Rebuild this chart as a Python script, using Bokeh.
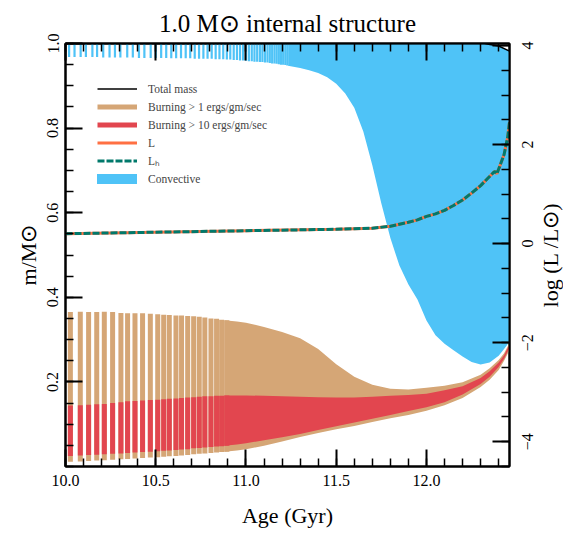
from bokeh.plotting import figure
from bokeh.layouts import row
from bokeh.models import Range1d, LinearAxis, FixedTicker, Legend, LegendItem
from bokeh.embed import file_html
from bokeh.resources import INLINE

# ---------------- data ----------------
# striped phase: one vertical bar per model
stripe_age = [10.027, 10.082, 10.128, 10.173, 10.215, 10.261, 10.307, 10.344, 10.385, 10.427,
              10.470, 10.511, 10.544, 10.575, 10.612, 10.643, 10.677, 10.710, 10.741, 10.772,
              10.806, 10.837, 10.865, 10.894]
b1_top_s = [0.365, 0.366, 0.365, 0.365, 0.366, 0.365, 0.363, 0.362, 0.362, 0.362,
            0.361, 0.360, 0.359, 0.358, 0.357, 0.357, 0.356, 0.355, 0.354, 0.352,
            0.350, 0.349, 0.347, 0.346]
b1_bot_s = [0.011, 0.012, 0.013, 0.014, 0.015, 0.016, 0.017, 0.018, 0.019, 0.020,
            0.021, 0.022, 0.023, 0.024, 0.025, 0.026, 0.027, 0.029, 0.030, 0.031,
            0.032, 0.033, 0.034, 0.035]
b10_top_s = [0.144, 0.145, 0.146, 0.147, 0.148, 0.150, 0.152, 0.154, 0.155, 0.156,
             0.157, 0.158, 0.159, 0.160, 0.161, 0.162, 0.163, 0.164, 0.165, 0.166,
             0.166, 0.167, 0.167, 0.168]
b10_bot_s = [0.025, 0.026, 0.027, 0.028, 0.029, 0.030, 0.031, 0.032, 0.033, 0.034,
             0.035, 0.036, 0.037, 0.038, 0.039, 0.040, 0.041, 0.043, 0.044, 0.045,
             0.046, 0.047, 0.048, 0.049]

# continuous phase of the burning zones
age_c = [10.88, 10.95, 11.0, 11.1, 11.2, 11.3, 11.4, 11.5, 11.6, 11.7,
         11.8, 11.9, 12.0, 12.1, 12.2, 12.3, 12.35, 12.4, 12.43, 12.46]
b1_top_c = [0.346, 0.343, 0.340, 0.330, 0.318, 0.303, 0.278, 0.242, 0.212, 0.193,
            0.184, 0.182, 0.186, 0.191, 0.199, 0.217, 0.232, 0.252, 0.268, 0.292]
b10_top_c = [0.168, 0.168, 0.168, 0.167, 0.166, 0.165, 0.164, 0.163, 0.163, 0.165,
             0.167, 0.169, 0.172, 0.180, 0.190, 0.209, 0.225, 0.246, 0.263, 0.289]
b10_bot_c = [0.049, 0.052, 0.055, 0.062, 0.069, 0.077, 0.086, 0.095, 0.104, 0.113,
             0.122, 0.131, 0.140, 0.152, 0.170, 0.195, 0.212, 0.235, 0.255, 0.280]
b1_bot_c = [0.035, 0.038, 0.041, 0.049, 0.059, 0.070, 0.079, 0.088, 0.096, 0.105,
            0.114, 0.122, 0.132, 0.145, 0.162, 0.188, 0.205, 0.228, 0.250, 0.275]

# convective envelope: thin bars early, then a continuous zone
conv_stripe_age = [10.020, 10.050, 10.084, 10.113, 10.149, 10.175, 10.209, 10.244, 10.274, 10.304,
                   10.342, 10.373, 10.407, 10.437, 10.472, 10.500, 10.530, 10.558, 10.586, 10.613,
                   10.640, 10.666, 10.691, 10.716, 10.740, 10.764, 10.787, 10.810, 10.832, 10.853,
                   10.874, 10.894, 10.913, 10.932, 10.950, 10.967, 10.984, 11.000, 11.016, 11.032,
                   11.047, 11.062, 11.077, 11.091, 11.105, 11.119, 11.132, 11.145, 11.158, 11.170,
                   11.182, 11.194, 11.206, 11.218, 11.229, 11.240]
conv_stripe_bot = [0.968, 0.968, 0.968, 0.968, 0.968, 0.968, 0.967, 0.967, 0.967, 0.967,
                   0.967, 0.967, 0.966, 0.966, 0.966, 0.966, 0.966, 0.966, 0.965, 0.965,
                   0.965, 0.965, 0.965, 0.964, 0.964, 0.964, 0.964, 0.964, 0.963, 0.963,
                   0.963, 0.962, 0.962, 0.961, 0.961, 0.960, 0.960, 0.959, 0.958, 0.958,
                   0.957, 0.957, 0.956, 0.956, 0.955, 0.955, 0.954, 0.953, 0.953, 0.952,
                   0.951, 0.950, 0.950, 0.949, 0.948, 0.947]
conv_age = [11.24, 11.3, 11.35, 11.4, 11.45, 11.5, 11.55, 11.6, 11.65, 11.7,
            11.75, 11.8, 11.85, 11.9, 11.95, 12.0, 12.05, 12.1, 12.15, 12.2,
            12.25, 12.3, 12.35, 12.4, 12.43, 12.46]
conv_bot = [0.947, 0.942, 0.937, 0.930, 0.920, 0.905, 0.882, 0.848, 0.792, 0.712,
            0.622, 0.540, 0.475, 0.430, 0.395, 0.345, 0.310, 0.290, 0.275, 0.260,
            0.247, 0.241, 0.246, 0.262, 0.278, 0.295]
conv_top = [1.0, 1.0, 1.0, 1.0, 1.0, 1.0, 1.0, 1.0, 1.0, 1.0,
            1.0, 1.0, 1.0, 1.0, 1.0, 1.0, 1.0, 1.0, 1.0, 1.0,
            1.0, 1.0, 0.998, 0.994, 0.989, 0.982]

mass_age = [10.0, 12.32, 12.40, 12.46]
total_mass = [1.0, 1.0, 0.994, 0.982]

lum_age = [10.0, 10.5, 11.0, 11.5, 11.6, 11.7, 11.8, 11.85, 11.9, 11.95,
           12.0, 12.05, 12.1, 12.15, 12.2, 12.25, 12.3, 12.34, 12.37, 12.38,
           12.39, 12.41, 12.43, 12.45, 12.46]
log_L = [0.20, 0.23, 0.26, 0.29, 0.30, 0.31, 0.35, 0.39, 0.43, 0.48,
         0.55, 0.60, 0.67, 0.77, 0.88, 1.02, 1.17, 1.32, 1.43, 1.46,
         1.41, 1.60, 1.80, 2.15, 2.45]

x_ticks = [10.0, 10.5, 11.0, 11.5, 12.0]
x_tick_labels = ["10.0", "10.5", "11.0", "11.5", "12.0"]
m_ticks = [0.2, 0.4, 0.6, 0.8, 1.0]
m_tick_labels = ["0.2", "0.4", "0.6", "0.8", "1.0"]
l_ticks = [-4, -2, 0, 2, 4]
l_tick_labels = ["\u22124", "\u22122", "0", "2", "4"]

# ---------------- styling ----------------
TAN = "#D5A676"
RED = "#E2464F"
BLUE = "#4FC3F7"
ORANGE = "#FF7043"
TEAL = "#00796B"
FONT = "Liberation Serif"
L_LO, L_HI = -4.5, 4.04
W_MAIN = 511          # main figure; a narrow strip on its right carries the log L labels
TOP, BOTTOM = 43, 69

p = figure(width=W_MAIN, height=535, x_range=Range1d(10.0, 12.46), y_range=Range1d(0.0, 1.0),
           output_backend="svg", toolbar_location=None,
           min_border_left=65, min_border_right=2, min_border_top=TOP, min_border_bottom=BOTTOM,
           title="1.0 M\u2299 internal structure")
p.extra_y_ranges = {"logL": Range1d(L_LO, L_HI)}
p.grid.visible = False
p.outline_line_color = "black"
p.outline_line_width = 2
p.background_fill_color = "white"
p.border_fill_color = "white"
p.title.align = "center"
p.title.vertical_align = "top"
p.title.text_font = FONT
p.title.text_font_size = "25px"
p.title.text_font_style = "normal"
p.title.text_color = "black"
p.title.standoff = 9

# convective zone
conv_s = p.segment(x0=conv_stripe_age, y0=conv_stripe_bot, x1=conv_stripe_age,
                   y1=[1.0] * len(conv_stripe_age), line_color=BLUE, line_width=2.2)
p.varea(x=conv_age, y1=conv_bot, y2=conv_top, fill_color=BLUE)

# burning > 1
b1_s = p.segment(x0=stripe_age, y0=b1_bot_s, x1=stripe_age, y1=b1_top_s,
                 line_color=TAN, line_width=5, line_cap="butt")
p.varea(x=age_c, y1=b1_bot_c, y2=b1_top_c, fill_color=TAN)

# burning > 10
b10_s = p.segment(x0=stripe_age, y0=b10_bot_s, x1=stripe_age, y1=b10_top_s,
                  line_color=RED, line_width=5, line_cap="butt")
p.varea(x=age_c, y1=b10_bot_c, y2=b10_top_c, fill_color=RED)

# luminosities on the right axis
l_line = p.line(lum_age, log_L, line_color=ORANGE, line_width=3, y_range_name="logL")
lh_line = p.line(lum_age, log_L, line_color=TEAL, line_width=3, line_dash="7 2",
                 y_range_name="logL")
tm_line = p.line(mass_age, total_mass, line_color="black", line_width=1.5)
# one-point line: draws nothing, only provides the legend swatch
conv_leg = p.line(conv_age[:1], conv_top[:1], line_color=BLUE, line_width=10, line_cap="round")

# axes
def style(ax):
    ax.axis_line_width = 2
    ax.major_tick_line_width = 2
    ax.minor_tick_line_width = 1.5
    ax.major_tick_in = 17
    ax.major_tick_out = 0
    ax.minor_tick_in = 8
    ax.minor_tick_out = 0
    ax.major_label_text_font = FONT
    ax.major_label_text_font_size = "16px"
    ax.major_label_text_color = "black"
    ax.axis_label_text_font = FONT
    ax.axis_label_text_font_size = "22px"
    ax.axis_label_text_font_style = "normal"
    ax.axis_label_text_color = "black"

xminor = [round(10.0 + 0.1 * i, 1) for i in range(25)]
mminor = [round(0.05 * i, 2) for i in range(21)]
lminor = [-4.5 + 0.5 * i for i in range(18)]

xa = p.xaxis[0]
xa.ticker = FixedTicker(ticks=x_ticks, minor_ticks=xminor)
xa.major_label_overrides = dict(zip(x_ticks, x_tick_labels))
xa.axis_label = "Age (Gyr)"
style(xa)
xa.major_label_standoff = 8
xa.axis_label_standoff = 14

ya = p.yaxis[0]
ya.ticker = FixedTicker(ticks=m_ticks, minor_ticks=mminor)
ya.major_label_overrides = dict(zip(m_ticks, m_tick_labels))
ya.axis_label = "m/M\u2299"
style(ya)
ya.major_label_orientation = "vertical"
ya.major_label_standoff = 7
ya.axis_label_standoff = 4

top = LinearAxis(ticker=FixedTicker(ticks=x_ticks, minor_ticks=xminor))
style(top)
top.major_label_overrides = {t: "" for t in x_ticks}
top.major_label_standoff = 0
p.add_layout(top, "above")

# right axis of the main figure: inward ticks only (its labels live in the strip)
ra = LinearAxis(y_range_name="logL", ticker=FixedTicker(ticks=l_ticks, minor_ticks=lminor))
style(ra)
ra.major_label_overrides = {t: "" for t in l_ticks}
ra.major_label_standoff = 0
p.add_layout(ra, "right")

# legend
legend = Legend(items=[
    LegendItem(label="Total mass", renderers=[tm_line]),
    LegendItem(label="Burning > 1 ergs/gm/sec", renderers=[b1_s]),
    LegendItem(label="Burning > 10 ergs/gm/sec", renderers=[b10_s]),
    LegendItem(label="L", renderers=[l_line]),
    LegendItem(label="L\u2095", renderers=[lh_line]),
    LegendItem(label="Convective", renderers=[conv_leg]),
], location=(32, 279))
legend.border_line_alpha = 0
legend.background_fill_alpha = 0
legend.label_text_font = FONT
legend.label_text_font_size = "11.5px"
legend.glyph_width = 40
legend.glyph_height = 17
legend.label_height = 17
legend.label_standoff = 11
legend.spacing = 1
legend.padding = 0
legend.margin = 0
p.add_layout(legend)

# ---- narrow strip to the right: log L tick labels and title, read bottom-to-top ----
p2 = figure(width=563 - W_MAIN, height=535, x_range=Range1d(0, 1), y_range=Range1d(L_LO, L_HI),
            output_backend="svg", toolbar_location=None, title=None,
            x_axis_location=None, y_axis_location=None,
            min_border_left=563 - W_MAIN - 1, min_border_right=0,
            min_border_top=TOP, min_border_bottom=BOTTOM)
p2.grid.visible = False
p2.outline_line_color = None
p2.background_fill_color = "white"
p2.border_fill_color = "white"

def bare(ax):
    ax.axis_line_color = None
    ax.major_tick_line_color = None
    ax.minor_tick_line_color = None
    ax.major_tick_in = 0
    ax.major_tick_out = 0
    ax.minor_tick_in = 0
    ax.minor_tick_out = 0
    ax.major_label_text_font = FONT
    ax.major_label_text_color = "black"
    ax.major_label_orientation = "vertical"

mid = (L_LO + L_HI) / 2
t_ax = LinearAxis(ticker=FixedTicker(ticks=[mid], minor_ticks=[]))
bare(t_ax)
t_ax.major_label_overrides = {mid: "log (L /L\u2299)"}
t_ax.major_label_text_font_size = "22px"
t_ax.major_label_standoff = 0
p2.add_layout(t_ax, "left")

k_ax = LinearAxis(ticker=FixedTicker(ticks=l_ticks, minor_ticks=[]))
bare(k_ax)
k_ax.major_label_overrides = dict(zip(l_ticks, l_tick_labels))
k_ax.major_label_text_font_size = "16px"
k_ax.major_label_standoff = 1
p2.add_layout(k_ax, "left")

layout = row(p, p2, spacing=0)
open("out.html", "w").write(file_html(layout, INLINE))
